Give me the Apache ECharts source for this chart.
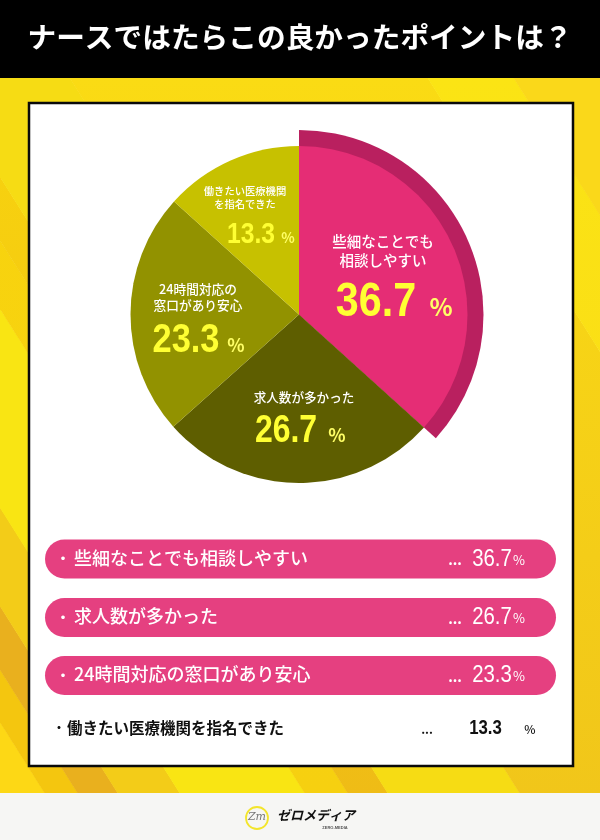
<!DOCTYPE html>
<html><head><meta charset="utf-8">
<style>html,body{margin:0;padding:0;background:#fff}#c{width:600px;height:840px}</style>
<script src="https://cdn.jsdelivr.net/npm/echarts@6/dist/echarts.min.js"></script>
</head><body><div id="c"></div>
<script>
const titleText = 'ナースではたらこの良かったポイントは？';
const categories = ['些細なことでも相談しやすい','求人数が多かった','24時間対応の窓口があり安心','働きたい医療機関を指名できた'];
const pieLabels = [['些細なことでも','相談しやすい'],['求人数が多かった'],['24時間対応の','窓口があり安心'],['働きたい医療機関','を指名できた']];
const values = [36.7,26.7,23.3,13.3];
const sliceColors = ['#e52d75','#5e5e00','#929200','#c7c100'];
const titlePos = [[383,251],[304,397],[198,297],[245,198]];
const numPos = [[376,303],[286,431],[186,341],[251,235]];
const pctPos = [[441,307],[337,435],[236,345],[288,238]];
const titleSize = [14.5,12.6,12.7,10.3];
const numSize = [48,39,41,29];
const numScale = [.86,.82,.84,.85];
const pctSize = [24,18,18,14];
const bandEdges = [-200,45,78,118,180,305,348,388,520,878,964,1200];
const bandColors = ['#fdd815','#f4c60f','#e9b01e','#f3cc18','#f9e513',['#f8d40e','#f6d010'],['#f8d40e','#efbc16'],'#f6dc14',['#fadb14','#f1c61a'],['#fbe414','#f9d818'],'#fad81a'];

const JP = '"Noto Sans CJK JP"';
const NUM = '"Liberation Sans"';
const SLOPE = .63;
const chart = echarts.init(document.getElementById('c'),null,{renderer:'canvas'});
const g = [];
bandColors.forEach((col,i)=>{
  const a = bandEdges[i], b = bandEdges[i+1], d = SLOPE*(793-78);
  const fill = Array.isArray(col) ? new echarts.graphic.LinearGradient(0,0,0,1,[{offset:0,color:col[0]},{offset:1,color:col[1]}]) : col;
  g.push({type:'polygon',z:0,shape:{points:[[a,794],[b+.5,794],[b+.5-d,78],[a-d,78]]},style:{fill:fill}});
});
g.push({type:'rect',z:1,shape:{x:0,y:0,width:600,height:78},style:{fill:'#000'}});
g.push({type:'rect',z:1,shape:{x:0,y:793,width:600,height:47},style:{fill:'#f6f6f4'}});
g.push({type:'rect',z:1,shape:{x:29,y:103,width:544,height:663},style:{fill:'#fff',stroke:'#0a0a0a',lineWidth:2.5}});
g.push({type:'text',z:1,x:300,y:37,style:{text:titleText,fill:'#fff',font:'700 28.7px '+JP,align:'center',verticalAlign:'middle'}});

const rowY = [559,617.5,675.5];
function squeezed(txt,x,y,font,fill,sc,z){
  return {type:'text',z:z,x:x,y:y,scaleX:sc,style:{text:txt,fill:fill,font:font,align:'center',verticalAlign:'middle'}};
}
categories.forEach((c,i)=>{
  const v = values[i].toFixed(1);
  if(i<3){
    g.push({type:'rect',z:1,shape:{x:45,y:rowY[i]-19.5,width:511,height:39,r:19.5},style:{fill:'#e54080'}});
    g.push({type:'text',z:1,x:63,y:rowY[i]-1,style:{text:'・',fill:'#fff',font:'700 14px '+JP,align:'center',verticalAlign:'middle'}});
    g.push({type:'text',z:1,x:74,y:rowY[i]-1,style:{text:c,fill:'#fff',font:'500 18px '+JP,verticalAlign:'middle'}});
    g.push({type:'text',z:1,x:455,y:rowY[i]+1,style:{text:'...',fill:'#fff',font:'700 14px '+JP,align:'center',verticalAlign:'middle'}});
    g.push(squeezed(v,492,rowY[i],'400 24px '+NUM,'#fff',.85,1));
    g.push({type:'text',z:1,x:519,y:rowY[i]+1,style:{text:'%',fill:'#fff',font:'400 13px '+JP,align:'center',verticalAlign:'middle'}});
  } else {
    g.push({type:'text',z:1,x:59,y:728,style:{text:'・',fill:'#111',font:'700 12px '+JP,align:'center',verticalAlign:'middle'}});
    g.push({type:'text',z:1,x:67,y:728,style:{text:c,fill:'#111',font:'700 15.5px '+JP,verticalAlign:'middle'}});
    g.push({type:'text',z:1,x:427,y:729,style:{text:'...',fill:'#111',font:'700 12px '+JP,align:'center',verticalAlign:'middle'}});
    g.push(squeezed(v,485.5,728,'700 21px '+NUM,'#111',.8,1));
    g.push({type:'text',z:1,x:530,y:729,style:{text:'%',fill:'#111',font:'500 12px '+JP,align:'center',verticalAlign:'middle'}});
  }
});
// logo
g.push({type:'circle',z:1,shape:{cx:257,cy:818,r:11},style:{fill:'none',stroke:'#f3e52c',lineWidth:1.8}});
g.push({type:'text',z:1,x:257,y:817,style:{text:'Zm',fill:'#777',font:'italic 400 11px "DejaVu Serif"',align:'center',verticalAlign:'middle'}});
g.push({type:'text',z:1,x:316,y:815,style:{text:'ゼロメディア',fill:'#111',font:'italic 700 13px '+JP,align:'center',verticalAlign:'middle'}});
g.push({type:'text',z:1,x:335,y:828,style:{text:'ZERO-MEDIA',fill:'#555',font:'700 4px "Liberation Sans"',align:'center',verticalAlign:'middle'}});

const shadowStyle = {shadowColor:'rgba(60,30,0,.45)',shadowBlur:2,shadowOffsetX:1,shadowOffsetY:1};
values.forEach((v,i)=>{
  g.push({type:'text',z:20,x:numPos[i][0],y:numPos[i][1],scaleX:numScale[i],silent:true,
    style:Object.assign({text:v.toFixed(1),fill:'#ffff33',font:'700 '+numSize[i]+'px '+NUM,align:'center',verticalAlign:'middle'},shadowStyle)});
  g.push({type:'text',z:20,x:pctPos[i][0],y:pctPos[i][1],silent:true,
    style:Object.assign({text:'%',fill:'#ffff66',font:'700 '+pctSize[i]+'px '+JP,align:'center',verticalAlign:'middle'},shadowStyle)});
});
const titleRich = {};
values.forEach((_,i)=>{
  titleRich['t'+i] = {fontFamily:JP,fontWeight:500,fontSize:titleSize[i],color:'#fff',lineHeight:titleSize[i]*1.25};
});
chart.setOption({
  animation:false,
  graphic:{elements:g},
  series:[
   {type:'pie',center:[299,314.5],radius:[0,184.5],startAngle:90,silent:true,z:2,avoidLabelOverlap:false,minShowLabelAngle:0,labelLine:{show:false},
    data:values.map((v,i)=>({value:v,name:categories[i],
      itemStyle:{color:i===0?'#b9205f':'rgba(0,0,0,0)'},
      label:{show:false}}))},
   {type:'pie',center:[299,314.5],radius:[0,168.5],startAngle:90,silent:true,z:3,avoidLabelOverlap:false,minShowLabelAngle:0,labelLine:{show:false},
    data:values.map((v,i)=>({value:v,name:categories[i],itemStyle:{color:sliceColors[i]}})),
    label:{show:true,position:'inside',align:'center',verticalAlign:'middle',rich:titleRich,
      formatter:p=>pieLabels[p.dataIndex].map(s=>'{t'+p.dataIndex+'|'+s+'}').join('\n')},
    labelLayout:p=>({x:titlePos[p.dataIndex][0],y:titlePos[p.dataIndex][1],align:'center',verticalAlign:'middle'})}
  ]
});
</script></body></html>
